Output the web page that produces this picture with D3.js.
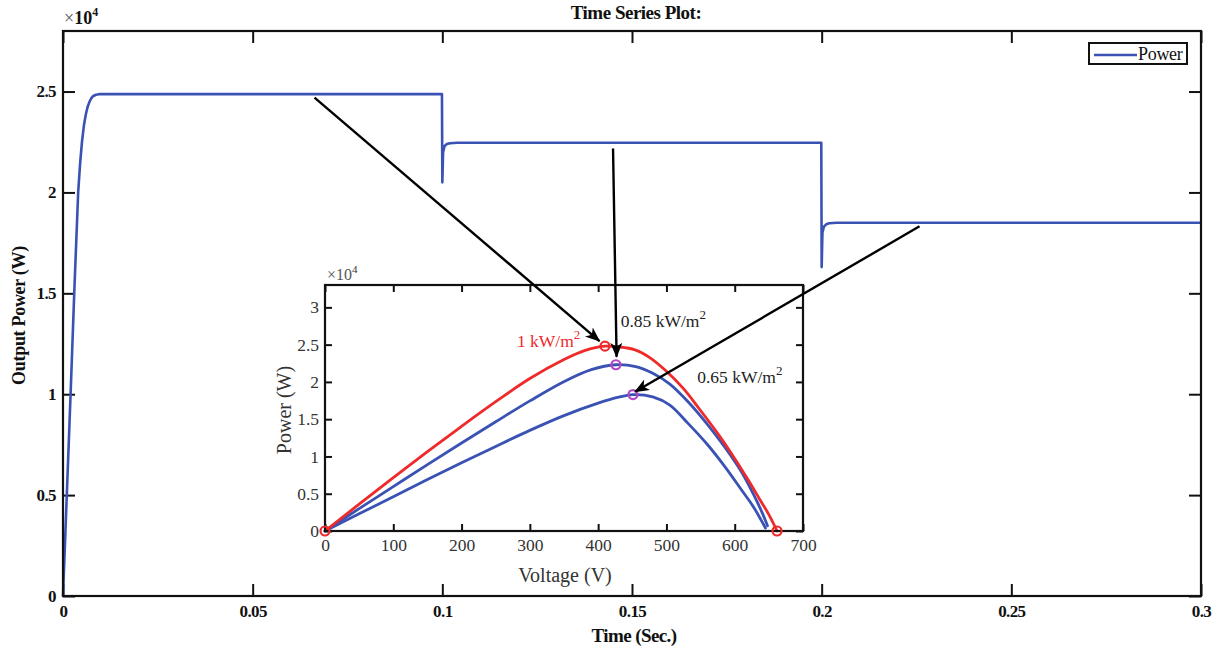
<!DOCTYPE html>
<html>
<head>
<meta charset="utf-8">
<script src="https://cdn.jsdelivr.net/npm/d3@7"></script>
<style>
  html, body { margin: 0; padding: 0; background: #fff; }
  svg { display: block; font-family: "Liberation Serif", "Times New Roman", serif; }
</style>
</head>
<body>
<svg id="chart" width="1218" height="650"></svg>
<script>
// Output power time series (s, W)
const timeSec = [0, 0.001, 0.002, 0.003, 0.004, 0.0045, 0.005, 0.0055, 0.006, 0.0065, 0.007, 0.0075, 0.008, 0.0087, 0.0095,
  0.0999, 0.1, 0.1002, 0.1006, 0.1012, 0.102, 0.104,
  0.1999, 0.2, 0.2002, 0.2006, 0.2012, 0.202, 0.204, 0.3];
const powerW = [0, 5000, 10000, 15200, 20000, 21400, 22500, 23300, 23850, 24250, 24500, 24680, 24780, 24840, 24870,
  24870, 20500, 22000, 22300, 22400, 22440, 22460,
  22460, 16300, 18000, 18300, 18420, 18470, 18500, 18500];

const mainXTicks = [0, 0.05, 0.1, 0.15, 0.2, 0.25, 0.3];
const mainXTickLabels = ["0", "0.05", "0.1", "0.15", "0.2", "0.25", "0.3"];
const mainYTicks = [0, 5000, 10000, 15000, 20000, 25000];
const mainYTickLabels = ["0", "0.5", "1", "1.5", "2", "2.5"];

// P-V curves at three irradiance levels (V, W)
const pvVolt1000 = [0, 50, 100, 150, 200, 250, 300, 350, 380, 410, 430, 454, 475, 498, 525, 548, 575, 598, 620, 637, 650, 662];
const pvPow1000 = [0, 3600, 7150, 10650, 14050, 17350, 20450, 23000, 24200, 24800, 24700, 24300, 23300, 21600, 19100, 16400, 13100, 10000, 6800, 4200, 2200, 0];
const pvVolt850 = [0, 50, 100, 150, 200, 250, 300, 349, 390, 426, 455, 480, 505, 532, 560, 585, 610, 627, 640, 648];
const pvPow850 = [0, 3000, 5950, 8900, 11800, 14650, 17450, 20000, 21650, 22300, 22050, 21150, 19700, 17300, 14300, 11300, 7900, 5000, 2500, 700];
const pvVolt650 = [0, 50, 100, 150, 200, 250, 300, 349, 400, 430, 451, 480, 505, 532, 560, 585, 610, 627, 645];
const pvPow650 = [0, 2300, 4600, 6900, 9150, 11350, 13500, 15450, 17150, 17950, 18300, 18000, 16900, 14400, 11600, 8700, 5500, 3300, 400];

// Maximum power points
const mppVolt = [410, 426, 451];
const mppPow = [24800, 22300, 18300];
const irrLabels = ["1 kW/m", "0.85 kW/m", "0.65 kW/m"];

const insetXTicks = [0, 100, 200, 300, 400, 500, 600, 700];
const insetYTicks = [0, 5000, 10000, 15000, 20000, 25000, 30000];
const insetYTickLabels = ["0", "0.5", "1", "1.5", "2", "2.5", "3"];

// Arrows: from a point on the time series to the matching MPP on the inset
const arrowFromTime = [0.0663, 0.145, 0.2258];
const arrowFromPow = [24700, 22180, 18320];
const arrowToVolt = [402, 427, 454];
const arrowToPow = [25470, 23360, 18670];

const BLUE = "#3a52b4";
const RED = "#ee2a2a";
const MAG = "#b447c4";

const svg = d3.select("#chart");

// ---------- main axes ----------
const m = { left: 63, right: 1201, top: 31, bottom: 596 };
const x = d3.scaleLinear().domain([0, 0.3]).range([m.left, m.right]);
const y = d3.scaleLinear().domain([0, 28000]).range([m.bottom, m.top]);

const tickLen = 12;
const main = svg.append("g");

main.append("rect")
  .attr("x", m.left).attr("y", m.top)
  .attr("width", m.right - m.left).attr("height", m.bottom - m.top)
  .attr("fill", "#fff");

const xAxisB = d3.axisBottom(x).tickValues(mainXTicks).tickSize(-tickLen).tickPadding(9)
  .tickFormat((d, i) => mainXTickLabels[i]);
const xAxisT = d3.axisTop(x).tickValues(mainXTicks).tickSize(-tickLen).tickFormat("");
const yAxisL = d3.axisLeft(y).tickValues(mainYTicks).tickSize(-tickLen).tickPadding(7)
  .tickFormat((d, i) => mainYTickLabels[i]);
const yAxisR = d3.axisRight(y).tickValues(mainYTicks).tickSize(-tickLen).tickFormat("");

function styleAxis(g, fontSize, weight, spacing) {
  g.selectAll(".domain").remove();
  g.selectAll(".tick line").attr("stroke", "#111").attr("stroke-width", 2);
  g.selectAll(".tick text").attr("fill", "#111")
    .style("font-family", "'Liberation Serif', serif")
    .style("font-size", fontSize + "px").style("font-weight", weight)
    .style("letter-spacing", (spacing || 0) + "px");
}

main.append("g").attr("transform", `translate(0,${m.bottom})`).call(xAxisB).call(g => styleAxis(g, 17, "bold", -0.6));
main.append("g").attr("transform", `translate(0,${m.top})`).call(xAxisT).call(g => styleAxis(g, 17, "bold"));
main.append("g").attr("transform", `translate(${m.left},0)`).call(yAxisL).call(g => styleAxis(g, 17, "bold", -0.6));
main.append("g").attr("transform", `translate(${m.right},0)`).call(yAxisR).call(g => styleAxis(g, 17, "bold"));

// power curve
const mainLine = d3.line().x((d, i) => x(timeSec[i])).y(d => y(d));
main.append("path").datum(powerW)
  .attr("d", mainLine)
  .attr("fill", "none").attr("stroke", BLUE).attr("stroke-width", 2.6)
  .attr("stroke-linejoin", "round");

main.append("rect")
  .attr("x", m.left).attr("y", m.top)
  .attr("width", m.right - m.left).attr("height", m.bottom - m.top)
  .attr("fill", "none").attr("stroke", "#111").attr("stroke-width", 2.2);

// exponent label
const expM = main.append("text").attr("x", m.left + 1).attr("y", m.top - 7)
  .attr("font-size", 18).attr("font-weight", "bold").attr("fill", "#111");
expM.append("tspan").attr("font-weight", "normal").attr("fill", "#555").text("\u00d7");
expM.append("tspan").text("10");
expM.append("tspan").attr("dy", -8).attr("font-size", 12).text("4");

// title and axis labels
svg.append("text").attr("x", 636).attr("y", 19).attr("text-anchor", "middle")
  .attr("font-size", 19).attr("font-weight", "bold").attr("fill", "#111")
  .attr("letter-spacing", -0.5).text("Time Series Plot:");
svg.append("text").attr("x", 634).attr("y", 642).attr("text-anchor", "middle")
  .attr("font-size", 19).attr("font-weight", "bold").attr("fill", "#111")
  .attr("letter-spacing", -0.6).text("Time (Sec.)");
svg.append("text").attr("transform", `translate(25,${(m.top + m.bottom) / 2 + 2}) rotate(-90)`)
  .attr("text-anchor", "middle").attr("font-size", 18).attr("font-weight", "bold").attr("fill", "#111")
  .attr("letter-spacing", -0.3).text("Output Power (W)");

// legend
const lg = svg.append("g");
lg.append("rect").attr("x", 1089).attr("y", 43).attr("width", 98).attr("height", 21)
  .attr("fill", "#fff").attr("stroke", "#111").attr("stroke-width", 2);
lg.append("line").attr("x1", 1094).attr("x2", 1137).attr("y1", 55).attr("y2", 55)
  .attr("stroke", BLUE).attr("stroke-width", 2.6);
lg.append("text").attr("x", 1138).attr("y", 60).attr("font-size", 18).attr("fill", "#111")
  .attr("letter-spacing", -0.3).text("Power");

// ---------- inset P-V axes ----------
const n = { left: 325, right: 803, top: 285, bottom: 531 };
const ix = d3.scaleLinear().domain([0, 700]).range([n.left, n.right]);
const iy = d3.scaleLinear().domain([0, 33000]).range([n.bottom, n.top]);
const inset = svg.append("g");

inset.append("rect")
  .attr("x", n.left).attr("y", n.top)
  .attr("width", n.right - n.left).attr("height", n.bottom - n.top)
  .attr("fill", "#fff");

const iTick = 7;
inset.append("g").attr("transform", `translate(0,${n.bottom})`)
  .call(d3.axisBottom(ix).tickValues(insetXTicks).tickSize(-iTick).tickPadding(8).tickFormat(d3.format("d")))
  .call(g => styleAxis(g, 17.5, "normal"));
inset.append("g").attr("transform", `translate(0,${n.top})`)
  .call(d3.axisTop(ix).tickValues(insetXTicks).tickSize(-iTick).tickFormat(""))
  .call(g => styleAxis(g, 17.5, "normal"));
inset.append("g").attr("transform", `translate(${n.left},0)`)
  .call(d3.axisLeft(iy).tickValues(insetYTicks).tickSize(-iTick).tickPadding(6)
    .tickFormat((d, i) => insetYTickLabels[i]))
  .call(g => styleAxis(g, 17.5, "normal"));
inset.append("g").attr("transform", `translate(${n.right},0)`)
  .call(d3.axisRight(iy).tickValues(insetYTicks).tickSize(-iTick).tickFormat(""))
  .call(g => styleAxis(g, 17.5, "normal"));
inset.selectAll(".tick text").attr("fill", "#333");

const pvCurves = [
  { v: pvVolt650, p: pvPow650, c: BLUE },
  { v: pvVolt850, p: pvPow850, c: BLUE },
  { v: pvVolt1000, p: pvPow1000, c: RED }
];
const pvLine = d3.line().curve(d3.curveCatmullRom.alpha(0.5));
pvCurves.forEach(cv => {
  inset.append("path")
    .attr("d", pvLine(cv.v.map((v, i) => [ix(v), iy(cv.p[i])])))
    .attr("fill", "none").attr("stroke", cv.c).attr("stroke-width", 2.8)
    .attr("stroke-linecap", "round");
});

inset.append("rect")
  .attr("x", n.left).attr("y", n.top)
  .attr("width", n.right - n.left).attr("height", n.bottom - n.top)
  .attr("fill", "none").attr("stroke", "#111").attr("stroke-width", 2.2);

// markers: origin and open-circuit point (red), MPPs
const redPts = [[0, 0], [pvVolt1000[pvVolt1000.length - 1], 0], [mppVolt[0], mppPow[0]]];
inset.selectAll("circle.red").data(redPts).join("circle")
  .attr("cx", d => ix(d[0])).attr("cy", d => iy(d[1])).attr("r", 4.5)
  .attr("fill", "none").attr("stroke", RED).attr("stroke-width", 2.2);
inset.selectAll("circle.mpp").data([1, 2]).join("circle")
  .attr("cx", i => ix(mppVolt[i])).attr("cy", i => iy(mppPow[i])).attr("r", 4.5)
  .attr("fill", "none").attr("stroke", MAG).attr("stroke-width", 2.2);

// inset exponent and labels
const expI = inset.append("text").attr("x", n.left + 2).attr("y", n.top - 5)
  .attr("font-size", 16).attr("fill", "#333");
expI.append("tspan").attr("fill", "#555").text("\u00d710");
expI.append("tspan").attr("dy", -7).attr("font-size", 11).text("4");

svg.append("text").attr("x", 565).attr("y", 582).attr("text-anchor", "middle")
  .attr("font-size", 20).attr("fill", "#333").text("Voltage (V)");
svg.append("text").attr("transform", `translate(291,${(n.top + n.bottom) / 2 + 2}) rotate(-90)`)
  .attr("text-anchor", "middle").attr("font-size", 20).attr("fill", "#333").text("Power (W)");

// irradiance labels
const labelPos = [[281, 24660], [433, 27350], [545, 19840]];
const labelCol = [RED, "#222", "#222"];
irrLabels.forEach((t, i) => {
  const tx = inset.append("text").attr("x", ix(labelPos[i][0])).attr("y", iy(labelPos[i][1]))
    .attr("font-size", 17.5).attr("fill", labelCol[i]);
  tx.append("tspan").text(t);
  tx.append("tspan").attr("dy", -8).attr("font-size", 13).text("2");
});

// ---------- arrows ----------
const defs = svg.append("defs");
defs.append("marker").attr("id", "head").attr("viewBox", "0 0 15 12")
  .attr("refX", 14).attr("refY", 6).attr("markerWidth", 15).attr("markerHeight", 12)
  .attr("markerUnits", "userSpaceOnUse").attr("orient", "auto")
  .append("path").attr("d", "M0,0 L15,6 L0,12 L4,6 Z").attr("fill", "#000");

arrowFromTime.forEach((t, i) => {
  svg.append("line")
    .attr("x1", x(t)).attr("y1", y(arrowFromPow[i]))
    .attr("x2", ix(arrowToVolt[i])).attr("y2", iy(arrowToPow[i]))
    .attr("stroke", "#000").attr("stroke-width", 2.4)
    .attr("marker-end", "url(#head)");
});
</script>
</body>
</html>
